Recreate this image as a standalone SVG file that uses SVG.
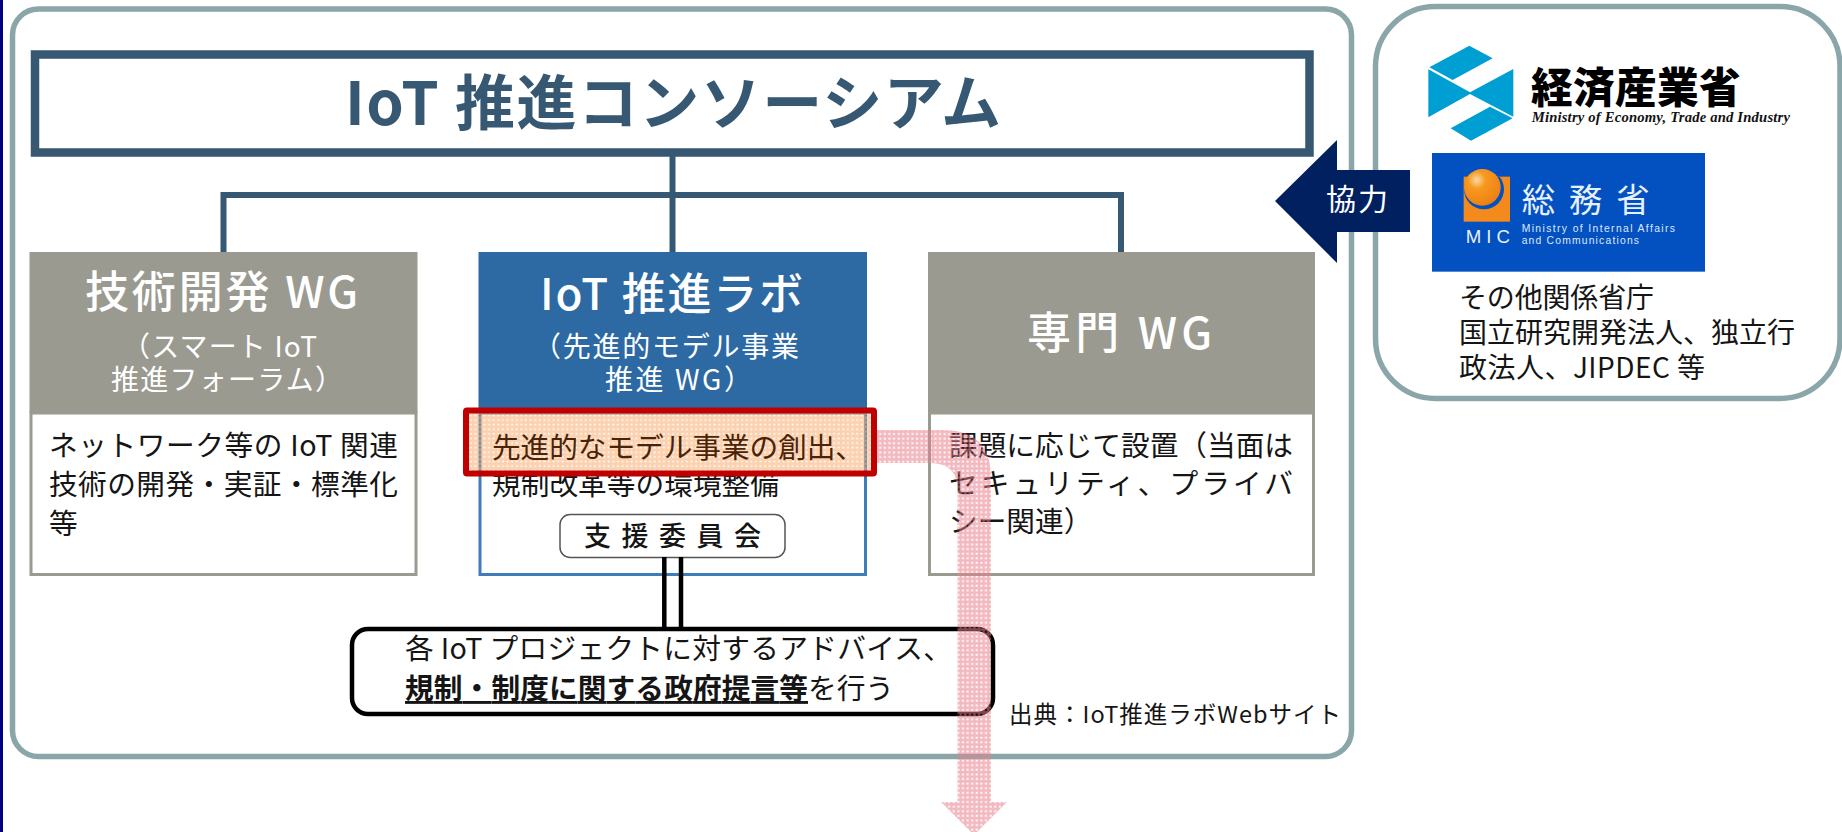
<svg xmlns="http://www.w3.org/2000/svg" width="1842" height="832" viewBox="0 0 1842 832">
<style>
text{font-family:"Noto Sans CJK JP","Noto Sans",sans-serif;fill:#151515}
.panel{fill:#fff;stroke:#8ba6a9;stroke-width:5.5}
.wire{fill:none;stroke:#365872;stroke-width:6}
.t1{font-size:44px;font-weight:500}
.t2{font-size:28px}
.b{font-size:28.7px}
.w{fill:#fff}
.g{fill:#fff;stroke:#9a9a90;stroke-width:3}
.gh{fill:#9a9a90}
.bl{fill:#fff;stroke:#3f7cb9;stroke-width:3}
.blh{fill:#2d69a3}
</style>
<defs>
<pattern id="pinkDots" width="4.6" height="4.6" patternUnits="userSpaceOnUse">
<path d="M0 0H4.6V4.6H0Z M0.6 0.6V2.6H2.6V0.6Z" fill="#e8808c" fill-opacity=".55" fill-rule="evenodd"/>
</pattern>
<pattern id="orangeDots" width="4.6" height="4.6" patternUnits="userSpaceOnUse">
<path d="M0 0H4.6V4.6H0Z M0.6 0.6V2.4H2.4V0.6Z" fill="#f9b27c" fill-opacity=".6" fill-rule="evenodd"/>
</pattern>
<radialGradient id="ball" cx=".35" cy=".3" r=".8">
<stop offset="0" stop-color="#fbd9a8"/><stop offset=".3" stop-color="#f7991f"/><stop offset="1" stop-color="#ec7d10"/>
</radialGradient>
<clipPath id="sq"><rect x="131" y="440" width="139" height="135"/></clipPath>
</defs>

<rect x="0" y="0" width="3" height="832" fill="#000080"/>

<g id="consortium-panel"><rect class="panel" x="12.5" y="9" width="1339" height="747.5" rx="26"/></g>
<g id="ministries-panel"><rect class="panel" x="1375.5" y="6.5" width="464.5" height="392" rx="60"/></g>

<g id="title">
<rect x="35" y="54.5" width="1274.5" height="98" fill="#fff" stroke="#365872" stroke-width="8.5"/>
<text x="345" y="125" font-size="60" font-weight="700" textLength="656" style="fill:#365872">IoT 推進コンソーシアム</text>
</g>

<g id="tech-wg">
<rect class="gh" x="29.5" y="252" width="388" height="161"/>
<rect class="g" x="31" y="413" width="385" height="161.5"/>
<text class="t1 w" x="85" y="308" font-size="46" textLength="273">技術開発 WG</text>
<text class="t2 w" x="122" y="357" textLength="195">（スマート IoT</text>
<text class="t2 w" x="111" y="390" textLength="232">推進フォーラム）</text>
<text class="b" x="49" y="456" textLength="349">ネットワーク等の IoT 関連</text>
<text class="b" x="49" y="495" textLength="349">技術の開発・実証・標準化</text>
<text class="b" x="49" y="534">等</text>
</g>

<g id="lab-wg">
<rect class="blh" x="478.5" y="252" width="388.5" height="161"/>
<rect class="bl" x="480" y="413" width="385.5" height="161.5"/>
<text class="t1 w" x="540" y="310" textLength="263">IoT 推進ラボ</text>
<text class="t2 w" x="533" y="357" textLength="266">（先進的モデル事業</text>
<text class="t2 w" x="605" y="390" textLength="147">推進 WG）</text>
<text class="b" x="492" y="495" textLength="287">規制改革等の環境整備</text>
</g>

<g id="expert-wg">
<rect class="gh" x="928" y="252" width="387" height="161"/>
<rect class="g" x="929.5" y="413" width="384" height="161.5"/>
<text class="t1 w" x="1027" y="349" textLength="185">専門 WG</text>
<text class="b" x="949" y="456" textLength="344">課題に応じて設置（当面は</text>
<text class="b" x="949" y="494" textLength="344">セキュリティ、プライバ</text>
<text class="b" x="949" y="532">シー関連）</text>
</g>

<g id="support-committee">
<rect x="560" y="514.5" width="225" height="43" rx="10" fill="#fff" stroke="#555" stroke-width="1.5"/>
<text x="584" y="546" font-size="27" font-weight="500" style="letter-spacing:10.5px">支援委員会</text>
</g>

<g id="advice">
<rect x="352" y="629" width="641" height="85" rx="16" fill="#fff" stroke="#000" stroke-width="4.5"/>
<text class="b" x="405" y="659" textLength="547">各 IoT プロジェクトに対するアドバイス、</text>
<text class="b" x="405" y="699" font-weight="700" text-decoration="underline" textLength="403">規制・制度に関する政府提言等</text>
<text class="b" x="808" y="699">を行う</text>
</g>

<g id="source"><text x="1009" y="723" font-size="23.5" textLength="332">出典：IoT推進ラボWebサイト</text></g>

<g id="connectors">
<path class="wire" d="M672.5 155V252"/>
<path class="wire" d="M223.5 252V195H1121V252"/>
<path d="M664.3 557V627M681 557V627" fill="none" stroke="#000" stroke-width="4.5"/>
</g>

<g id="highlight">
<rect x="466" y="410.5" width="408" height="63" rx="1" fill="url(#orangeDots)" stroke="none"/>
<text class="b" x="492" y="458" textLength="372" style="fill:#4a2408">先進的なモデル事業の創出、</text>
<rect x="466" y="410.5" width="408" height="63" rx="1" fill="none" stroke="#c00000" stroke-width="6"/>
</g>

<g id="flow-arrow">
<path fill="url(#pinkDots)" d="M877 430H943Q991 430 991 478V802H1007L974 835L941 802H957.5V490Q957.5 463 930 463H877Z"/>
</g>

<g id="cooperate-arrow">
<path fill="#002060" d="M1275 201L1337 140V170H1410V232H1337V263Z"/>
<text class="w" x="1326" y="210" font-size="30" textLength="62">協力</text>
</g>

<g id="meti-logo" transform="translate(1420 30) scale(.33333)">
<path fill="#009fd3" d="M28 112L148 47L218 85L98 150ZM25 118L150 187L280 117V260L150 192L25 262ZM92 295L210 230L278 265L153 332Z"/>
<text x="333" y="218" font-size="125" font-weight="900" textLength="629" style="fill:#000">経済産業省</text>
<text x="335" y="275" font-size="44" font-weight="700" font-style="italic" textLength="775" style="fill:#111;font-family:'Liberation Serif',serif">Ministry of Economy, Trade and Industry</text>
</g>

<g id="mic-logo" transform="translate(1420 30) scale(.33333)">
<rect x="36" y="369" width="819" height="356" fill="#0350c0"/>
<rect x="131" y="440" width="139" height="135" fill="#f28a1c"/>
<circle cx="192" cy="478" r="60" fill="#0350c0" clip-path="url(#sq)"/>
<circle cx="187" cy="472" r="55" fill="url(#ball)"/>
<text x="137" y="640" font-size="56" textLength="133" style="fill:#e6f0ff;font-family:'Liberation Sans',sans-serif">MIC</text>
<text x="305" y="545" font-size="100" style="fill:#e6f0ff;letter-spacing:42px">総務省</text>
<text x="305" y="607" font-size="31" textLength="460" style="fill:#dce9ff;font-family:'Liberation Sans',sans-serif">Ministry of Internal Affairs</text>
<text x="305" y="643" font-size="31" textLength="352" style="fill:#dce9ff;font-family:'Liberation Sans',sans-serif">and Communications</text>
</g>

<g id="other-agencies">
<text x="1459" y="308" font-size="28" textLength="195">その他関係省庁</text>
<text x="1459" y="343" font-size="28" textLength="336">国立研究開発法人、独立行</text>
<text x="1459" y="378" font-size="28" textLength="246">政法人、JIPDEC 等</text>
</g>
</svg>
